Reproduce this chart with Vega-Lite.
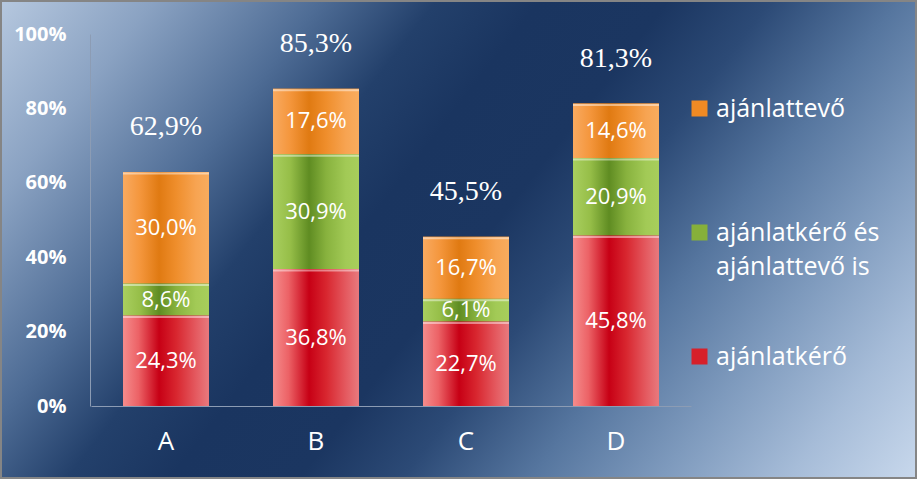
{
  "$schema": "https://vega.github.io/schema/vega-lite/v6.json",
  "width": 917,
  "height": 479,
  "autosize": {"type": "none"},
  "padding": 0,
  "config": {
    "locale": {"number": {"decimal": ",", "thousands": "\u00a0", "grouping": [3], "currency": ["", " Ft"]}},
    "font": "Open Sans",
    "view": {
      "fill": {"gradient": "linear", "x1": 0, "y1": 0, "x2": 1.206, "y2": 0.487,
        "stops": [
          {"offset": 0, "color": "#b6c8df"},
          {"offset": 0.12, "color": "#8aa2c2"},
          {"offset": 0.25, "color": "#4e6c95"},
          {"offset": 0.34, "color": "#23406b"},
          {"offset": 0.42, "color": "#1a3560"},
          {"offset": 0.52, "color": "#1b3661"},
          {"offset": 0.6, "color": "#2c4a76"},
          {"offset": 0.7, "color": "#56769f"},
          {"offset": 0.8, "color": "#7e9abd"},
          {"offset": 0.9, "color": "#a6bcd8"},
          {"offset": 1, "color": "#c8d8ec"}
        ]},
      "stroke": "#858585",
      "strokeWidth": 4
    }
  },
  "datasets": {
    "seg": [
      {"cat": "A", "series": "ajánlatkérő", "v": 0.243},
      {"cat": "A", "series": "ajánlatkérő és ajánlattevő is", "v": 0.086},
      {"cat": "A", "series": "ajánlattevő", "v": 0.300},
      {"cat": "B", "series": "ajánlatkérő", "v": 0.368},
      {"cat": "B", "series": "ajánlatkérő és ajánlattevő is", "v": 0.309},
      {"cat": "B", "series": "ajánlattevő", "v": 0.176},
      {"cat": "C", "series": "ajánlatkérő", "v": 0.227},
      {"cat": "C", "series": "ajánlatkérő és ajánlattevő is", "v": 0.061},
      {"cat": "C", "series": "ajánlattevő", "v": 0.167},
      {"cat": "D", "series": "ajánlatkérő", "v": 0.458},
      {"cat": "D", "series": "ajánlatkérő és ajánlattevő is", "v": 0.209},
      {"cat": "D", "series": "ajánlattevő", "v": 0.146}
    ],
    "tot": [
      {"cat": "A", "total": 0.629},
      {"cat": "B", "total": 0.853},
      {"cat": "C", "total": 0.455},
      {"cat": "D", "total": 0.813}
    ]
  },
  "layer": [
    {
      "data": {"name": "seg"},
      "transform": [{"stack": "v", "groupby": ["cat"], "sort": [{"field": "series", "order": "ascending"}], "as": ["y0", "y1"]}],
      "mark": {"type": "bar"},
      "encoding": {
        "x": {"field": "cat", "type": "nominal", "sort": ["A", "B", "C", "D"],
          "scale": {"range": [91, 691], "paddingInner": 0.427, "paddingOuter": 0.2135},
          "axis": {"title": null, "orient": "bottom", "offset": -73, "domainColor": "#8c9cb4", "domainWidth": 1, "ticks": false,
            "labelAngle": 0, "labelColor": "#ffffff", "labelFont": "Open Sans", "labelFontSize": 26, "labelPadding": 22}},
        "y": {"field": "y0", "type": "quantitative",
          "scale": {"domain": [0, 1], "range": [406, 34], "nice": false, "zero": false},
          "axis": {"title": null, "orient": "left", "offset": -90, "values": [0, 0.2, 0.4, 0.6, 0.8, 1], "format": ".0%",
            "grid": false, "ticks": false, "domainColor": "#8c9cb4", "domainWidth": 1,
            "labelColor": "#ffffff", "labelFont": "Open Sans", "labelFontSize": 20, "labelFontWeight": "bold", "labelPadding": 24}},
        "y2": {"field": "y1"},
        "color": {"field": "series", "type": "nominal",
          "scale": {
            "domain": ["ajánlattevő", "ajánlatkérő és ajánlattevő is", "ajánlatkérő"],
            "range": ["#f08a24", "#86b03a", "#d7202a"]},
          "legend": {"title": null, "orient": "none", "legendX": 687, "legendY": 96, "padding": 0,
            "symbolType": "square", "symbolSize": 256, "symbolStrokeWidth": 0, "symbolOpacity": 1,
            "labelColor": "#ffffff", "labelFont": "Open Sans", "labelFontSize": 25, "labelOffset": 4, "labelLimit": 300,
            "rowPadding": 64,
            "encode": {"labels": {"update": {"lineHeight": {"value": 34}}}},
            "labelExpr": "datum.label == 'ajánlatkérő és ajánlattevő is' ? ['ajánlatkérő és', 'ajánlattevő is'] : [datum.label, ' ']"}
        }
      }
    },
    {
      "data": {"name": "seg"},
      "transform": [
        {"stack": "v", "groupby": ["cat"], "sort": [{"field": "series", "order": "ascending"}], "as": ["y0", "y1"]},
        {"filter": "datum.series == 'ajánlattevő'"}
      ],
      "mark": {"type": "bar", "fill": {"gradient": "linear", "x1": 0, "y1": 0, "x2": 1, "y2": 0, "stops": [
                {"offset": 0, "color": "#f9aa60"}, {"offset": 0.2, "color": "#f4963c"}, {"offset": 0.42, "color": "#e07a12"},
                {"offset": 0.62, "color": "#ef8e2c"}, {"offset": 0.85, "color": "#f7a452"}, {"offset": 1, "color": "#f8ac5e"}]}},
      "encoding": {
        "x": {"field": "cat", "type": "nominal", "sort": ["A", "B", "C", "D"]},
        "y": {"field": "y0", "type": "quantitative"},
        "y2": {"field": "y1"}
      }
    },
    {
      "data": {"name": "seg"},
      "transform": [
        {"stack": "v", "groupby": ["cat"], "sort": [{"field": "series", "order": "ascending"}], "as": ["y0", "y1"]},
        {"filter": "datum.series == 'ajánlatkérő és ajánlattevő is'"}
      ],
      "mark": {"type": "bar", "fill": {"gradient": "linear", "x1": 0, "y1": 0, "x2": 1, "y2": 0, "stops": [
                {"offset": 0, "color": "#a9cf5f"}, {"offset": 0.2, "color": "#96be48"}, {"offset": 0.42, "color": "#5f8c22"},
                {"offset": 0.62, "color": "#88b23e"}, {"offset": 0.85, "color": "#a2ca56"}, {"offset": 1, "color": "#a8ce5c"}]}},
      "encoding": {
        "x": {"field": "cat", "type": "nominal", "sort": ["A", "B", "C", "D"]},
        "y": {"field": "y0", "type": "quantitative"},
        "y2": {"field": "y1"}
      }
    },
    {
      "data": {"name": "seg"},
      "transform": [
        {"stack": "v", "groupby": ["cat"], "sort": [{"field": "series", "order": "ascending"}], "as": ["y0", "y1"]},
        {"filter": "datum.series == 'ajánlatkérő'"}
      ],
      "mark": {"type": "bar", "fill": {"gradient": "linear", "x1": 0, "y1": 0, "x2": 1, "y2": 0, "stops": [
                {"offset": 0, "color": "#f58c8c"}, {"offset": 0.18, "color": "#ec6266"}, {"offset": 0.42, "color": "#c70015"},
                {"offset": 0.62, "color": "#d8262f"}, {"offset": 0.85, "color": "#e45a60"}, {"offset": 1, "color": "#e87a7e"}]}},
      "encoding": {
        "x": {"field": "cat", "type": "nominal", "sort": ["A", "B", "C", "D"]},
        "y": {"field": "y0", "type": "quantitative"},
        "y2": {"field": "y1"}
      }
    },
    {
      "data": {"name": "seg"},
      "transform": [{"stack": "v", "groupby": ["cat"], "sort": [{"field": "series", "order": "ascending"}], "as": ["y0", "y1"]}],
      "mark": {"type": "tick", "color": "#ffffff", "opacity": 0.45, "thickness": 2, "size": 86, "yOffset": 1.5},
      "encoding": {
        "x": {"field": "cat", "type": "nominal", "sort": ["A", "B", "C", "D"]},
        "y": {"field": "y1", "type": "quantitative"}
      }
    },
    {
      "data": {"name": "seg"},
      "transform": [
        {"stack": "v", "groupby": ["cat"], "sort": [{"field": "series", "order": "ascending"}], "as": ["y0", "y1"]},
        {"calculate": "(datum.y0 + datum.y1) / 2", "as": "mid"}
      ],
      "mark": {"type": "text", "color": "#ffffff", "font": "Open Sans", "fontSize": 22, "baseline": "middle", "align": "center"},
      "encoding": {
        "x": {"field": "cat", "type": "nominal", "sort": ["A", "B", "C", "D"]},
        "y": {"field": "mid", "type": "quantitative"},
        "text": {"field": "v", "type": "quantitative", "format": ".1%"}
      }
    },
    {
      "data": {"name": "tot"},
      "mark": {"type": "text", "color": "#ffffff", "font": "Liberation Serif", "fontSize": 28, "baseline": "middle", "align": "center", "dy": -45},
      "encoding": {
        "x": {"field": "cat", "type": "nominal", "sort": ["A", "B", "C", "D"]},
        "y": {"field": "total", "type": "quantitative"},
        "text": {"field": "total", "type": "quantitative", "format": ".1%"}
      }
    }
  ]
}
